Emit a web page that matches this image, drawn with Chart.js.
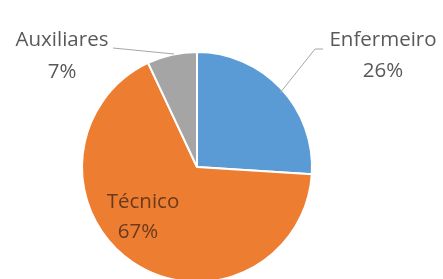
<!DOCTYPE html>
<html><head><meta charset="utf-8">
<script src="https://cdn.jsdelivr.net/npm/chart.js@4"></script>
<style>
html,body{margin:0;padding:0;overflow:hidden;background:#fff;width:443px;height:279px}
canvas{position:absolute;left:0;top:0}
</style></head><body>
<canvas id="c" width="443" height="334"></canvas>
<script>
const categories = ['Enfermeiro', 'Técnico', 'Auxiliares'];
const values = [26, 67, 7];
const percentLabels = ['26%', '67%', '7%'];
const colors = ['#5B9BD5', '#ED7D31', '#A5A5A5'];

const labelPlugin = {
  id: 'pieLabels',
  afterDatasetsDraw(chart) {
    const ctx = chart.ctx;
    const arcs = chart.getDatasetMeta(0).data;
    const cx = arcs[0].x, cy = arcs[0].y;
    ctx.save();
    ctx.font = '20.5px "Open Sans"';
    ctx.textAlign = 'center';
    ctx.textBaseline = 'middle';
    // leader lines
    ctx.strokeStyle = '#A6A6A6';
    ctx.lineWidth = 1;
    ctx.beginPath();
    ctx.moveTo(cx + 83, cy - 74);
    ctx.lineTo(cx + 118, cy - 118);
    ctx.lineTo(cx + 126, cy - 118);
    ctx.stroke();
    ctx.beginPath();
    ctx.moveTo(cx - 84, cy - 119);
    ctx.lineTo(cx - 23, cy - 113);
    ctx.stroke();
    // outside labels
    ctx.fillStyle = '#595959';
    ctx.fillText(categories[0], cx + 186, cy - 127);
    ctx.fillText(percentLabels[0], cx + 186, cy - 96);
    ctx.fillText(categories[2], cx - 135, cy - 127);
    ctx.fillText(percentLabels[2], cx - 135, cy - 95);
    // inside label
    ctx.fillStyle = '#6B3A1C';
    ctx.fillText(categories[1], cx - 54, cy + 35);
    ctx.fillText(percentLabels[1], cx - 59, cy + 65);
    ctx.restore();
  }
};

new Chart(document.getElementById('c'), {
  type: 'pie',
  data: {
    labels: categories,
    datasets: [{
      data: values,
      backgroundColor: colors,
      borderColor: '#FFFFFF',
      borderWidth: 2
    }]
  },
  options: {
    responsive: false,
    animation: false,
    radius: 115,
    layout: { padding: { right: 49 } },
    plugins: { legend: { display: false }, tooltip: { enabled: false } }
  },
  plugins: [labelPlugin]
});
</script>
</body></html>
